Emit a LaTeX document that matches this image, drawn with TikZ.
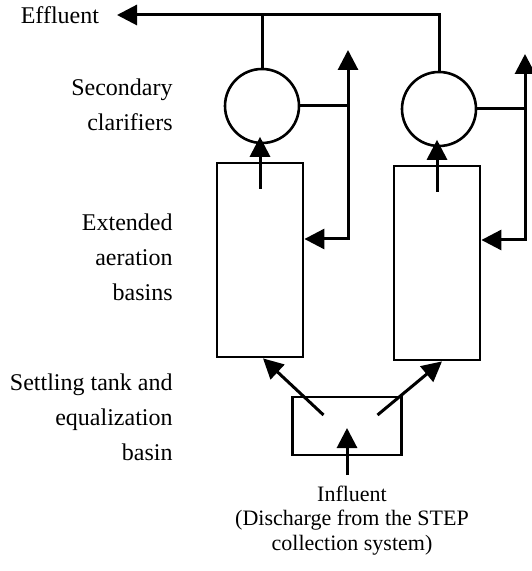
\documentclass[tikz,border=0pt]{standalone}
\usepackage{fontspec}
\setmainfont{Liberation Serif}
\usetikzlibrary{arrows.meta}

\tikzset{
  pipe/.style={line width=1.5pt},
  flow/.style={pipe,->},
  clarifier/.style={circle,draw,line width=1.3pt,minimum size=37pt,inner sep=0pt},
  basin/.style={rectangle,draw,line width=1.4pt,minimum width=43pt,minimum height=97pt,inner sep=0pt},
  tank/.style={rectangle,draw,line width=1.4pt,minimum width=54.5pt,minimum height=29pt,inner sep=0pt},
  stage/.style={align=right,anchor=base east,inner sep=0pt,font=\fontsize{12}{17.5}\selectfont},
}

\begin{document}
\begin{tikzpicture}[x=0.5pt,y=-0.5pt,>={Triangle[length=10pt,width=10pt]}]
  % 1 unit = 0.5pt, y pointing down
  \useasboundingbox (0,0) rectangle (531,571);
  % Klaringsbassenger, luftebassenger og utjevningstank
  \node[clarifier] (clar1) at (262,106) {};
  \node[clarifier] (clar2) at (439,109) {};
  \node[basin] (bas1) at (260,260) {};
  \node[basin] (bas2) at (437,263) {};
  \node[tank] (tank) at (347,426) {};
  % Tekst til venstre (base = siste linje)
  \node[anchor=east,inner sep=0pt,outer xsep=9pt,font=\fontsize{12}{14}\selectfont] (eff) at (117,15) {Effluent};
  \node[stage] (lblclar) at (173,131) {Secondary\\clarifiers};
  \node[stage] (lblbas) at (173,300) {Extended\\aeration\\basins};
  \node[stage] (lbltank) at (173,460) {Settling tank and\\equalization\\basin};
  \node[align=center,anchor=base,inner sep=0pt,font=\fontsize{11}{12.25}\selectfont] (infl) at (352,550)
    {Influent\\(Discharge from the STEP\\collection system)};
  % Utløp
  \draw[pipe] (clar1.north) -- (clar1.north |- eff.east);
  \draw[pipe] (clar2.north) -- (clar2.north |- eff.east);
  \draw[flow] ([xshift=1pt]clar2.north |- eff.east) -- (eff.east);
  % Tilløp og fordeling
  \draw[flow] ([yshift=5pt]tank.center |- infl.north) -- ([yshift=-1pt]tank.center);
  \draw[flow] ([shift={(-11.75pt,5.5pt)}]tank.center) -- ([xshift=1.5pt]bas1.south);
  \draw[flow] ([shift={(15.25pt,5.5pt)}]tank.center) -- ([xshift=2.5pt]bas2.south);
  \draw[flow] ([yshift=-13.5pt]bas1.north) -- ([yshift=3.75pt]bas1.north |- clar1.south);
  \draw[flow] ([yshift=-13.5pt]bas2.north) -- ([yshift=3.75pt]bas2.north |- clar2.south);
  % Returslam
  \coordinate (ret1) at (348,239);
  \coordinate (was1) at (348,50);
  \coordinate (ret2) at (525,240);
  \coordinate (was2) at (525,54);
  \draw[pipe] (clar1.east) -- (clar1.east -| ret1);
  \draw[pipe] (clar2.east) -- (clar2.east -| ret2);
  \draw[pipe,<->] (was1) -- (ret1) -- (bas1.east |- ret1);
  \draw[pipe,<->] (was2) -- (ret2) -- (bas2.east |- ret2);
\end{tikzpicture}
\end{document}
